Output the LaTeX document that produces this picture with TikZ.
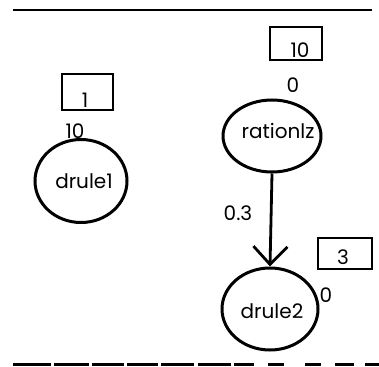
\documentclass[tikz,border=0pt]{standalone}
\usepackage{fontspec}
\setmainfont{Poppins}
\usetikzlibrary{arrows.meta,shapes.geometric}
\begin{document}
\begin{tikzpicture}[x=1pt,y=-1pt,
  state/.style={draw,line width=3pt,ellipse,inner sep=0pt},
  valbox/.style={draw,line width=2.8pt,inner sep=0pt},
  lbl/.style={font=\fontsize{20}{22}\selectfont,inner sep=0pt,anchor=base},
  conn/.style={line width=2.8pt,-{Straight Barb[length=18pt,width=34pt,line width=2.8pt]}}]
\useasboundingbox (0,0) rectangle (379,366);
% frame lines
\draw[line width=2.8pt] (13,10) -- (372,10);
\foreach \a/\b in {13/51,54/89,92/124,127/158,161/194,198/231,234/254,268/284,305/321,335/354,365/379}
  \draw[line width=2.8pt] (\a,364.5) -- (\b,364.5);
% states
\node[state,minimum width=92pt,minimum height=83pt] (d1) at (81,181) {};
\node[lbl] at (84,188) {drule1};
\node[state,minimum width=98pt,minimum height=72pt] (r) at (272,136) {};
\node[lbl] at (278,139) {rationlz};
\node[state,minimum width=96pt,minimum height=82pt] (d2) at (270,309) {};
\node[lbl] at (272,318) {drule2};
% value boxes
\node[valbox,minimum width=51pt,minimum height=36pt] (b1) at (87.5,92) {};
\node[lbl] at (85,108) {1};
\node[valbox,minimum width=52pt,minimum height=33pt] (b2) at (296,43.5) {};
\node[lbl] at (300,58) {10};
\node[valbox,minimum width=54pt,minimum height=31pt] (b3) at (345,253.5) {};
\node[lbl] at (343,264) {3};
% numbers
\node[lbl] (n1) at (75,138) {10};
\node[lbl] (n2) at (293,93) {0};
\node[lbl] (n3) at (326,302) {0};
\node[lbl] (w) at (238,220) {0.3};
% connector
\draw[conn] (r.south) -- (d2.north);
\end{tikzpicture}
\end{document}
